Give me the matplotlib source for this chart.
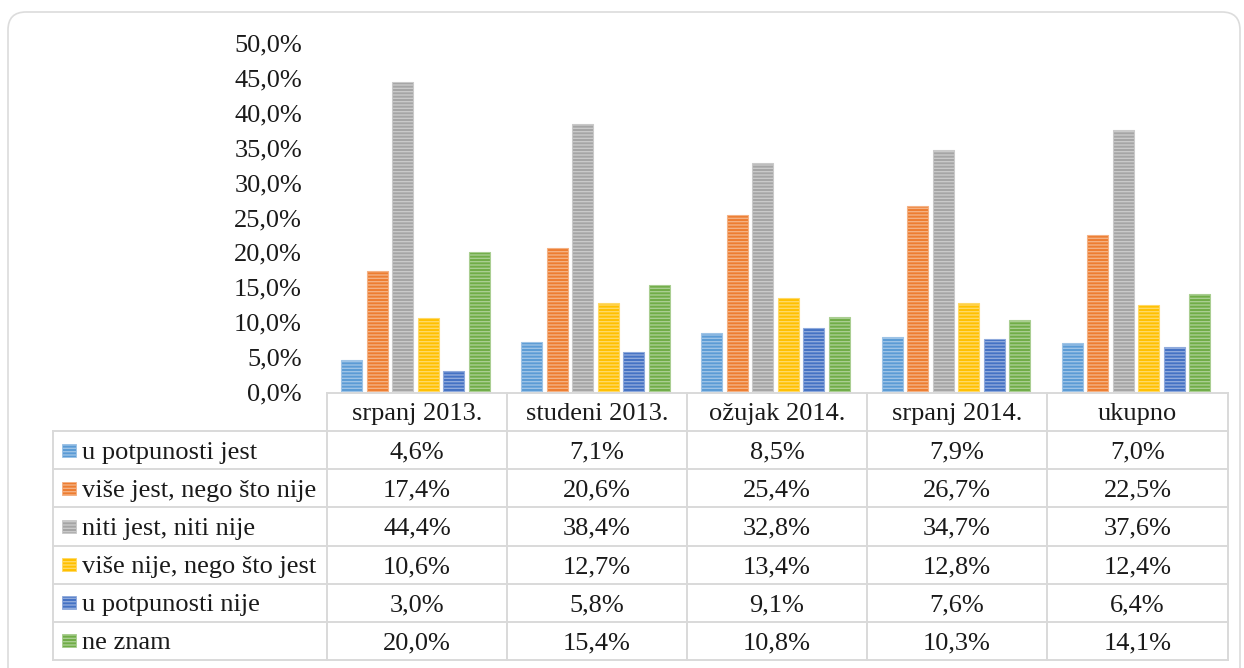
import numpy as np
import matplotlib.pyplot as plt
from matplotlib.patches import FancyBboxPatch, Rectangle
from matplotlib.ticker import FuncFormatter

periods = ["srpanj 2013.", "studeni 2013.", "ožujak 2014.", "srpanj 2014.", "ukupno"]
answers = ["u potpunosti jest", "više jest, nego što nije", "niti jest, niti nije",
           "više nije, nego što jest", "u potpunosti nije", "ne znam"]
u_potpunosti_jest = [4.6, 7.1, 8.5, 7.9, 7.0]
vise_jest = [17.4, 20.6, 25.4, 26.7, 22.5]
niti_jest_niti_nije = [44.4, 38.4, 32.8, 34.7, 37.6]
vise_nije = [10.6, 12.7, 13.4, 12.8, 12.4]
u_potpunosti_nije = [3.0, 5.8, 9.1, 7.6, 6.4]
ne_znam = [20.0, 15.4, 10.8, 10.3, 14.1]
series = [u_potpunosti_jest, vise_jest, niti_jest_niti_nije, vise_nije, u_potpunosti_nije, ne_znam]
colors = ["#5B9BD5", "#ED7D31", "#A5A5A5", "#FFC000", "#4472C4", "#70AD47"]
yticks = np.arange(0, 51, 5)

W, H = 1244, 668
plt.rcParams['font.family'] = ['Liberation Serif', 'DejaVu Serif']
plt.rcParams['hatch.linewidth'] = 1.0
txt_color = "#1a1a1a"
grid_color = "#d9d9d9"
fs = 19


def lighten(c, f=0.4):
    r, g, b = [int(c[i:i + 2], 16) / 255 for i in (1, 3, 5)]
    return (r + (1 - r) * f, g + (1 - g) * f, b + (1 - b) * f)


fig = plt.figure(figsize=(W / 100, H / 100), dpi=100)

# table columns / rows in pixels
col_x = [327, 507, 687, 867, 1047, 1228]
left_x = 53
y0, y50 = 392, 43
row_y = np.linspace(431, 660, len(answers) + 1)

ax = fig.add_axes([col_x[0] / W, 1 - y0 / H, (col_x[-1] - col_x[0]) / W, (y0 - y50) / H])
ax.set_xlim(0, len(periods))
ax.set_ylim(0, 50)
pitch, width = 0.1415, 0.1165
x = np.arange(len(periods)) + 0.49
for j, (vals, c) in enumerate(zip(series, colors)):
    ax.bar(x + (j - 2.5) * pitch, vals, width, color=c, edgecolor=lighten(c),
           linewidth=0.8, hatch='-----')
for s in ax.spines.values():
    s.set_visible(False)
ax.set_xticks([])
ax.set_yticks(yticks)
ax.yaxis.set_major_formatter(FuncFormatter(lambda v, p: f"{v:.1f}%".replace('.', ',')))
ax.tick_params(axis='y', length=0, pad=18, labelsize=fs, labelcolor=txt_color)

# table overlay in pixel coordinates
tb = fig.add_axes([0, 0, 1, 1])
tb.set_xlim(0, W)
tb.set_ylim(H, 0)
tb.axis('off')
tb.patch.set_alpha(0)

lw = 1.4
tb.plot([col_x[0], col_x[-1]], [y0 + 1, y0 + 1], color=grid_color, lw=lw)
for yy in row_y:
    tb.plot([left_x, col_x[-1]], [yy, yy], color=grid_color, lw=lw)
for xx in col_x:
    tb.plot([xx, xx], [y0 + 1, row_y[-1]], color=grid_color, lw=lw)
tb.plot([left_x, left_x], [row_y[0], row_y[-1]], color=grid_color, lw=lw)

for i, p in enumerate(periods):
    xc = (col_x[i] + col_x[i + 1]) / 2
    tb.text(xc, (y0 + row_y[0]) / 2 + 8.5, p, ha='center', va='baseline',
            fontsize=fs, color=txt_color)

for r, (name, vals, c) in enumerate(zip(answers, series, colors)):
    yc = (row_y[r] + row_y[r + 1]) / 2
    tb.add_patch(Rectangle((62, yc - 6.5), 14, 13, facecolor=c, edgecolor=lighten(c),
                           linewidth=0.6, hatch='-----'))
    tb.text(82, yc + 8.5, name, ha='left', va='baseline', fontsize=fs, color=txt_color)
    for i, v in enumerate(vals):
        xc = (col_x[i] + col_x[i + 1]) / 2
        tb.text(xc, yc + 8.5, f"{v:.1f}%".replace('.', ','), ha='center', va='baseline',
                fontsize=fs, color=txt_color)

tb.add_patch(FancyBboxPatch((8, 12), 1232, 720, boxstyle='round,pad=0,rounding_size=18',
                            facecolor='none', edgecolor='#dcdcdc', linewidth=1.2))

fig.savefig("out.png", dpi=100)
